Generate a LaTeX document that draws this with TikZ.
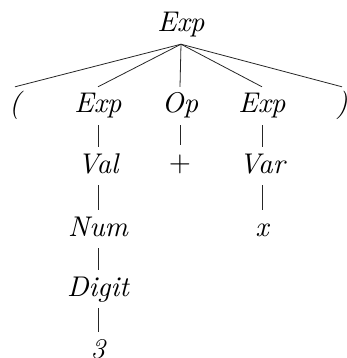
\documentclass[tikz,border=0pt]{standalone}
\usepackage{fontspec}
\setmainfont{lmroman10-regular.otf}[ItalicFont=lmroman10-italic.otf]
\begin{document}
\begin{tikzpicture}[x=1pt,y=1pt,
  tn/.style={anchor=base,font=\fontsize{28.5}{32}\selectfont\itshape,text height=20pt,text depth=6pt,inner xsep=0pt,inner ysep=6pt},
  edge/.style={line width=0.8pt,black!85}]
\useasboundingbox (0,0) rectangle (347,-358);
\node[tn] (root) at (181,-32) {Exp};
\node[tn] (lp) at (15,-113) {(};
\node[tn] (e1) at (98,-113) {Exp};
\node[tn] (op) at (180,-113) {Op};
\node[tn] (e2) at (262,-113) {Exp};
\node[tn] (rp) at (342,-113) {)};
\node[tn] (val) at (98,-173) {Val};
\node[tn] (plus) at (180,-171) {\upshape +};
\node[tn] (var) at (262,-173) {Var};
\node[tn] (num) at (98,-236) {Num};
\node[tn] (x) at (262,-236) {x};
\node[tn] (digit) at (98,-296) {Digit};
\node[tn] (three) at (98,-358) {3};
\foreach \c in {lp,e1,op,e2,rp} \draw[edge] (root.south) -- (\c.north);
\draw[edge] (e1.south) -- (val.north);
\draw[edge] (op.south) -- (plus.north);
\draw[edge] (e2.south) -- (var.north);
\draw[edge] (val.south) -- (num.north);
\draw[edge] (var.south) -- (x.north);
\draw[edge] (num.south) -- (digit.north);
\draw[edge] (digit.south) -- (three.north);
\end{tikzpicture}
\end{document}
